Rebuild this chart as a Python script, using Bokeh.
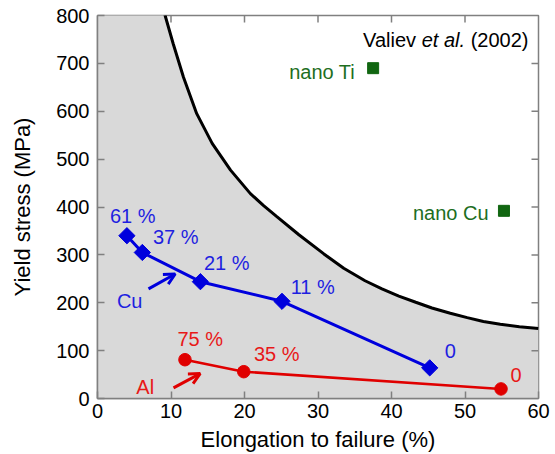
from bokeh.plotting import figure
from bokeh.models import FixedTicker, Label, Arrow, OpenHead, Range1d
from bokeh.core.properties import value
from bokeh.embed import file_html
from bokeh.resources import INLINE

# ---------------- data ----------------
# boundary curve
curve_x = [8.8, 9.2, 10.3, 11.7, 13.5, 15.6, 18.1, 20.8, 22.6, 24.4, 27.4, 30.8, 33.5,
           36.4, 38.7, 41.0, 43.3, 45.5, 48.0, 50.3, 52.5, 54.8, 57.4, 60.0]
curve_y = [840, 800, 741, 671, 595, 533, 477, 428, 403, 380, 342, 302, 272,
           246, 229, 214, 201, 189, 178, 169, 161, 155, 150, 146]

cu_x = [4.0, 6.1, 14.0, 25.1, 45.2]
cu_y = [340, 305, 244, 203, 64]
cu_labels = ["61 %", "37 %", "21 %", "11 %", "0"]

al_x = [11.9, 19.9, 54.9]
al_y = [81, 56, 20]
al_labels = ["75 %", "35 %", "0"]

nano_names = ["nano Ti", "nano Cu"]
nano_x = [37.5, 55.3]
nano_y = [690, 392]

x_ticks = [0, 10, 20, 30, 40, 50, 60]
y_ticks = [0, 100, 200, 300, 400, 500, 600, 700, 800]

# label placement (annotation positions, data coordinates)
cu_lab_x = [4.79, 10.64, 17.58, 29.28, 47.99]
cu_lab_y = [380.7, 336.9, 282.75, 232.75, 99.4]
al_lab_x = [13.97, 24.38, 56.96]
al_lab_y = [124.4, 93.2, 49.4]
nano_lab_x = [35.05, 53.2]
nano_lab_y = [682.1, 386.9]

FONT = "Liberation Sans"
BLUE = "#0000dd"
BLUE_T = "#1f1fe0"
RED = "#e00000"
RED_T = "#e81818"
GREEN = "#116611"
GREEN_T = "#1e6e1e"
GRAY = "#808080"

X0, X1, Y0, Y1 = 0, 60, 0, 800

p = figure(width=555, height=454, output_backend="svg", toolbar_location=None,
           x_range=Range1d(X0, X1), y_range=Range1d(Y0, Y1),
           min_border_left=97, min_border_right=17, min_border_top=15, min_border_bottom=55)
p.grid.visible = False
p.outline_line_color = GRAY
p.outline_line_width = 1.5

# gray region below the curve
p.varea(x=[X0] + curve_x, y1=Y0, y2=[curve_y[0]] + curve_y, fill_color="#d9d9d9")
p.line(curve_x, curve_y, line_color="black", line_width=3)

# Cu series
p.line(cu_x, cu_y, line_color=BLUE, line_width=3)
p.scatter(cu_x, cu_y, marker="square", angle=0.785398, size=11.5,
          fill_color=BLUE, line_color=BLUE)
# Al series
p.line(al_x, al_y, line_color=RED, line_width=2.5)
p.scatter(al_x, al_y, marker="circle", size=12.5, fill_color=RED, line_color=RED)
# nano points
p.scatter(nano_x, nano_y, marker="square", size=11, fill_color=GREEN, line_color=GREEN)

# labels
p.text(x=cu_lab_x, y=cu_lab_y, text=cu_labels, text_color=BLUE_T,
       text_font=value(FONT), text_font_size="20px", text_align="center",
       text_baseline="alphabetic")
p.text(x=al_lab_x, y=al_lab_y, text=al_labels, text_color=RED_T,
       text_font=value(FONT), text_font_size="20px", text_align="center",
       text_baseline="alphabetic")
p.text(x=nano_lab_x, y=nano_lab_y, text=nano_names, text_color=GREEN_T,
       text_font=value(FONT), text_font_size="20px", text_align="right",
       text_baseline="alphabetic")

p.add_layout(Label(x=4.38, y=203.6, text="Cu", text_color=BLUE_T, text_font=FONT,
                   text_font_size="20px", text_align="center", text_baseline="alphabetic"))
p.add_layout(Label(x=6.49, y=24.4, text="Al", text_color=RED_T, text_font=FONT,
                   text_font_size="20px", text_align="center", text_baseline="alphabetic"))

# citation
for txt, off, style in [("(2002)", 0, "normal"), ("et al.", -63.4, "italic"),
                        ("Valiev", -112.4, "normal")]:
    p.add_layout(Label(x=58.64, y=748, x_offset=off, text=txt, text_color="black",
                       text_font=FONT, text_font_size="20px", text_font_style=style,
                       text_align="right", text_baseline="alphabetic"))

# arrows
p.add_layout(Arrow(x_start=6.94, y_start=229, x_end=10.57, y_end=260,
                   line_color=BLUE, line_width=3,
                   end=OpenHead(size=11, line_color=BLUE, line_width=3)))
p.add_layout(Arrow(x_start=10.34, y_start=22.3, x_end=13.97, y_end=52,
                   line_color=RED, line_width=3,
                   end=OpenHead(size=11, line_color=RED, line_width=3)))

# inward ticks on the top and right frame edges (7 px long)
tick_dy = 7 / (383.0 / (Y1 - Y0))
tick_dx = 7 / (441.0 / (X1 - X0))
top_t = [t for t in x_ticks if X0 < t < X1]
right_t = [t for t in y_ticks if Y0 < t < Y1]
p.segment(x0=top_t, y0=[Y1] * len(top_t), x1=top_t, y1=[Y1 - tick_dy] * len(top_t),
          line_color=GRAY, line_width=1.5)
p.segment(x0=[X1] * len(right_t), y0=right_t, x1=[X1 - tick_dx] * len(right_t), y1=right_t,
          line_color=GRAY, line_width=1.5)

# axes
xa = p.xaxis[0]
ya = p.yaxis[0]
for ax, ticks in ((xa, x_ticks), (ya, y_ticks)):
    ax.ticker = FixedTicker(ticks=ticks)
    ax.axis_line_color = GRAY
    ax.axis_line_width = 1.5
    ax.major_tick_line_color = GRAY
    ax.major_tick_line_width = 1.5
    ax.major_tick_in = 7
    ax.major_tick_out = 0
    ax.minor_tick_line_color = None
    ax.major_label_text_font = FONT
    ax.major_label_text_color = "black"
    ax.major_label_text_font_size = "20px"
    ax.axis_label_text_font = FONT
    ax.axis_label_text_font_size = "22px"
    ax.axis_label_text_font_style = "normal"
    ax.axis_label_text_color = "black"
xa.axis_label = "Elongation to failure (%)"
ya.axis_label = "Yield stress (MPa)"
xa.major_label_standoff = 5
xa.axis_label_standoff = 6
ya.major_label_standoff = 8
ya.axis_label_standoff = 18

open("out.html", "w").write(file_html(p, INLINE))
